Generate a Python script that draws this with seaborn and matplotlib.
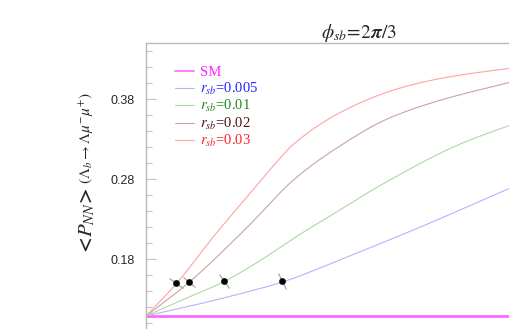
import numpy as np
import pandas as pd
import seaborn as sns
import matplotlib.pyplot as plt
from matplotlib.markers import MarkerStyle
from matplotlib.transforms import Affine2D

# curve values (x is a normalised kinematic variable 0..1)
x_sm = [0.0, 1.0]
y_sm = [0.1088, 0.1088]

x_005 = [0.0, 0.146, 0.256, 0.375, 0.532, 0.760, 1.0]
y_005 = [0.1088, 0.1238, 0.1363, 0.1513, 0.1788, 0.2213, 0.2688]

x_01 = [0.0, 0.105, 0.212, 0.320, 0.411, 0.532, 0.650, 0.862, 1.0]
y_01 = [0.1088, 0.1300, 0.1513, 0.1800, 0.2075, 0.2413, 0.2738, 0.3238, 0.3475]

x_02 = [0.0, 0.116, 0.273, 0.411, 0.532, 0.661, 0.799, 1.0]
y_02 = [0.1088, 0.1500, 0.2175, 0.2813, 0.3213, 0.3550, 0.3775, 0.4013]

x_03 = [0.0, 0.085, 0.182, 0.284, 0.366, 0.402, 0.551, 0.705, 0.843, 1.0]
y_03 = [0.1088, 0.1500, 0.2063, 0.2613, 0.3050, 0.3225, 0.3675, 0.3950, 0.4088, 0.4188]

# black points on the curves
x_dot = [0.083, 0.118, 0.215, 0.375]
y_dot = [0.1500, 0.1513, 0.1525, 0.1525]
dot_angle = [-35, -40, -55, -65]

labels = ['SM', r'$r_{sb}$=0.005', r'$r_{sb}$=0.01', r'$r_{sb}$=0.02', r'$r_{sb}$=0.03']
line_colors = ['#ff66ff', '#b4b4ff', '#add9a5', '#caa3a3', '#ffa3a3']
text_colors = ['#ff22ff', '#2323ff', '#1c8a1c', '#4a1212', '#ff2020']


def pchip(x, y, xi):
    # monotone cubic through the read points
    x = np.asarray(x, float)
    y = np.asarray(y, float)
    h = np.diff(x)
    d = np.diff(y) / h
    m = np.zeros_like(y)
    m[0], m[-1] = d[0], d[-1]
    for k in range(1, len(x) - 1):
        if d[k - 1] * d[k] > 0:
            w1 = 2 * h[k] + h[k - 1]
            w2 = h[k] + 2 * h[k - 1]
            m[k] = (w1 + w2) / (w1 / d[k - 1] + w2 / d[k])
    idx = np.clip(np.searchsorted(x, xi) - 1, 0, len(x) - 2)
    t = (xi - x[idx]) / h[idx]
    h00 = 2 * t**3 - 3 * t**2 + 1
    h10 = t**3 - 2 * t**2 + t
    h01 = -2 * t**3 + 3 * t**2
    h11 = t**3 - t**2
    return h00 * y[idx] + h10 * h[idx] * m[idx] + h01 * y[idx + 1] + h11 * h[idx] * m[idx + 1]


sns.set_style('white')
plt.rcParams['mathtext.fontset'] = 'stix'
plt.rcParams['font.family'] = ['Liberation Serif', 'DejaVu Sans']

fig = plt.figure(figsize=(5.1, 3.29), dpi=100)
ax = fig.add_axes([146 / 510, 0.0, 426 / 510, 1 - 43 / 329])

xs = [x_sm, x_005, x_01, x_02, x_03]
ys = [y_sm, y_005, y_01, y_02, y_03]
for i in range(5):
    xi = np.linspace(0, 1, 300)
    yi = pchip(xs[i], ys[i], xi)
    sns.lineplot(x=xi, y=yi, ax=ax, color=line_colors[i],
                 lw=2.0 if i == 0 else 0.8, label=labels[i])

for xd, yd, a in zip(x_dot, y_dot, dot_angle):
    m = MarkerStyle('_', transform=Affine2D().rotate_deg(a))
    ax.plot([xd], [yd], marker=m, ms=12, mew=0.8, color='#a0a0a0', zorder=4)
sns.scatterplot(x=x_dot, y=y_dot, ax=ax, color='black', s=20, zorder=5,
                edgecolor='black', legend=False)

ax.set_xlim(0, 426 / 364)
ax.set_ylim(0.0925, 0.4504)
ax.set_yticks([0.18, 0.28, 0.38])
ax.set_yticklabels(['0.18', '0.28', '0.38'], family='Liberation Sans', fontsize=9)
ax.set_yticks(np.arange(0.10, 0.45, 0.02), minor=True)
ax.tick_params(axis='y', which='major', direction='in', length=7, width=0.8,
               color='#c0c0c0', left=True, pad=8)
ax.tick_params(axis='y', which='minor', direction='in', length=4, width=0.8,
               color='#c0c0c0', left=True)
ax.set_xticks([])
for s in ['bottom', 'right']:
    ax.spines[s].set_visible(False)
for s in ['left', 'top']:
    ax.spines[s].set_color('#b8b8b8')
    ax.spines[s].set_linewidth(1.0)

leg = ax.legend(loc='upper left', bbox_to_anchor=(0.055, 0.94), frameon=False,
                fontsize=10.5, handlelength=1.3, handletextpad=0.4,
                labelspacing=0.1, borderaxespad=0)
for t, c in zip(leg.get_texts(), text_colors):
    t.set_color(c)
leg.get_lines()[0].set_linewidth(1.2)

fig.text(359 / 510, 1 - 33 / 329, r'$\phi_{sb}\!=\!2\boldsymbol{\pi}/3$', ha='center',
         va='center', fontsize=14)
fig.text(87 / 510, 1 - 256 / 329, r'$\mathbf{<}\!P_{NN}\!\mathbf{>}$', rotation=90,
         ha='center', va='bottom', fontsize=15)
fig.text(87 / 510, 1 - 184 / 329, r'$(\Lambda_b\rightarrow\Lambda\mu^{-}\mu^{+})$',
         rotation=90, ha='center', va='bottom', fontsize=11)

fig.savefig('out.png', dpi=100)
